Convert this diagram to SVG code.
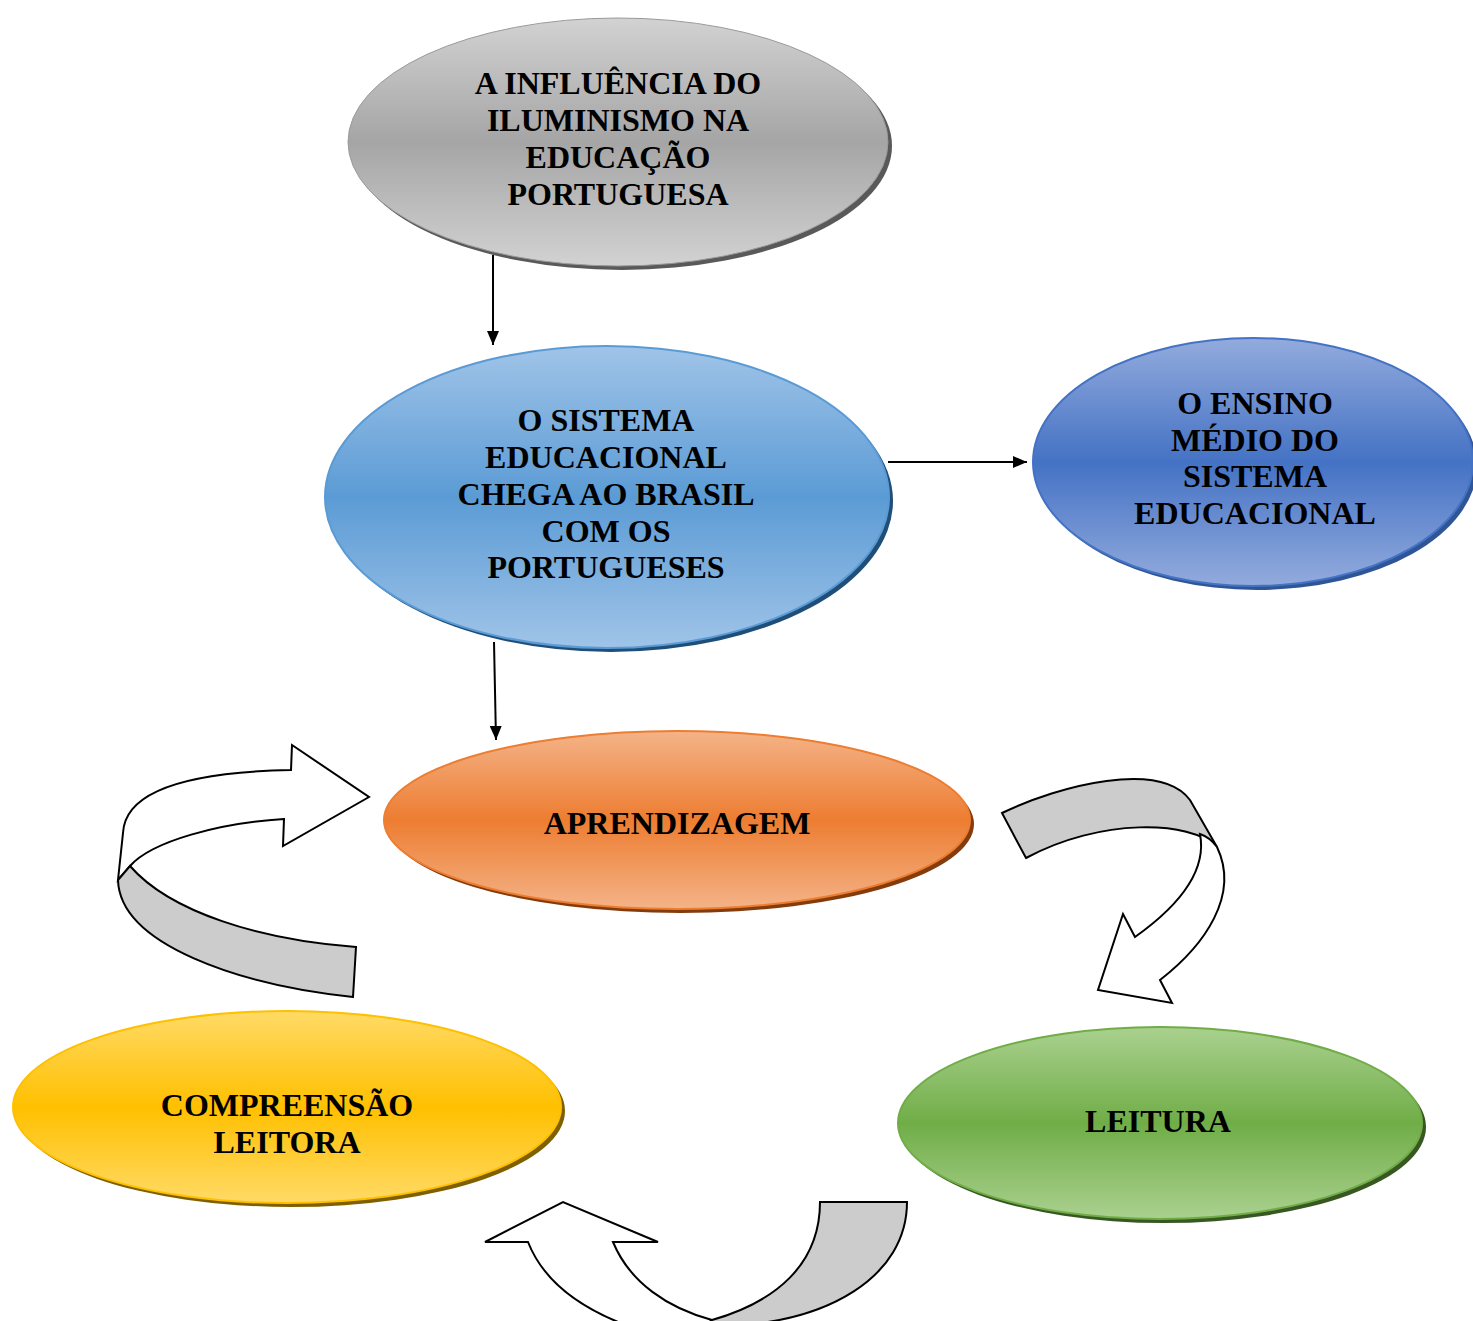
<svg xmlns="http://www.w3.org/2000/svg" width="1473" height="1321" viewBox="0 0 1473 1321">
<style>
.t{font-family:"Liberation Serif","Times New Roman",serif;font-weight:bold;font-size:32px;fill:#000;text-anchor:middle}
.c{stroke:#000;stroke-width:2;fill:none}
.ar{stroke:#000;stroke-width:2;stroke-linejoin:miter}
</style>
<defs>
<linearGradient id="gGray" x1="0" y1="0" x2="0" y2="1"><stop offset="0" stop-color="#d2d2d2"/><stop offset="0.5" stop-color="#a5a5a5"/><stop offset="1" stop-color="#d2d2d2"/></linearGradient>
<linearGradient id="gBlue" x1="0" y1="0" x2="0" y2="1"><stop offset="0" stop-color="#a0c4e8"/><stop offset="0.5" stop-color="#5b9bd5"/><stop offset="1" stop-color="#a0c4e8"/></linearGradient>
<linearGradient id="gDark" x1="0" y1="0" x2="0" y2="1"><stop offset="0" stop-color="#93abdd"/><stop offset="0.5" stop-color="#4472c4"/><stop offset="1" stop-color="#93abdd"/></linearGradient>
<linearGradient id="gOr" x1="0" y1="0" x2="0" y2="1"><stop offset="0" stop-color="#f4b388"/><stop offset="0.5" stop-color="#ed7d31"/><stop offset="1" stop-color="#f4b388"/></linearGradient>
<linearGradient id="gYe" x1="0" y1="0" x2="0" y2="1"><stop offset="0" stop-color="#ffda66"/><stop offset="0.5" stop-color="#ffc000"/><stop offset="1" stop-color="#ffda66"/></linearGradient>
<linearGradient id="gGr" x1="0" y1="0" x2="0" y2="1"><stop offset="0" stop-color="#aad18f"/><stop offset="0.5" stop-color="#70ad47"/><stop offset="1" stop-color="#aad18f"/></linearGradient>
<marker id="ah" markerWidth="14" markerHeight="12" refX="14" refY="6" orient="auto" markerUnits="userSpaceOnUse" viewBox="0 0 14 12"><path d="M0,0 L14,6 L0,12 Z" fill="#000"/></marker>
</defs>

<g id="n-iluminismo">
<ellipse cx="622" cy="146" rx="270" ry="124" fill="#595959"/>
<ellipse cx="618" cy="142" rx="270" ry="124" fill="url(#gGray)" stroke="#9a9a9a" stroke-width="1"/>
<text class="t" x="618" y="94">A INFLUÊNCIA DO</text>
<text class="t" x="618" y="131">ILUMINISMO NA</text>
<text class="t" x="618" y="168">EDUCAÇÃO</text>
<text class="t" x="618" y="205">PORTUGUESA</text>
</g>

<g id="n-sistema">
<ellipse cx="611" cy="501" rx="282" ry="151" fill="#1f4e79"/>
<ellipse cx="607" cy="497" rx="282" ry="151" fill="url(#gBlue)" stroke="#5b9bd5" stroke-width="2"/>
<text class="t" x="606" y="431">O SISTEMA</text>
<text class="t" x="606" y="468">EDUCACIONAL</text>
<text class="t" x="606" y="505">CHEGA AO BRASIL</text>
<text class="t" x="606" y="542">COM OS</text>
<text class="t" x="606" y="578">PORTUGUESES</text>
</g>

<g id="n-ensino">
<ellipse cx="1257" cy="466" rx="220" ry="124" fill="#2f5597"/>
<ellipse cx="1253" cy="462" rx="220" ry="124" fill="url(#gDark)" stroke="#4472c4" stroke-width="2"/>
<text class="t" x="1255" y="414">O ENSINO</text>
<text class="t" x="1255" y="451">MÉDIO DO</text>
<text class="t" x="1255" y="487">SISTEMA</text>
<text class="t" x="1255" y="524">EDUCACIONAL</text>
</g>

<g id="n-aprendizagem">
<ellipse cx="681" cy="824" rx="293" ry="89" fill="#843c0c"/>
<ellipse cx="677" cy="820" rx="293" ry="89" fill="url(#gOr)" stroke="#ed7d31" stroke-width="2"/>
<text class="t" x="677" y="834">APRENDIZAGEM</text>
</g>

<g id="n-compreensao">
<ellipse cx="291" cy="1111" rx="274" ry="96" fill="#7f6000"/>
<ellipse cx="287" cy="1107" rx="274" ry="96" fill="url(#gYe)" stroke="#ffc000" stroke-width="2"/>
<text class="t" x="287" y="1116">COMPREENSÃO</text>
<text class="t" x="287" y="1153">LEITORA</text>
</g>

<g id="n-leitura">
<ellipse cx="1164" cy="1127" rx="262" ry="96" fill="#385723"/>
<ellipse cx="1160" cy="1123" rx="262" ry="96" fill="url(#gGr)" stroke="#70ad47" stroke-width="2"/>
<text class="t" x="1158" y="1132">LEITURA</text>
</g>

<g id="connectors">
<line class="c" x1="493" y1="255" x2="493" y2="345" marker-end="url(#ah)"/>
<line class="c" x1="494" y1="642" x2="496" y2="740" marker-end="url(#ah)"/>
<line class="c" x1="888" y1="462" x2="1027" y2="462" marker-end="url(#ah)"/>

<path class="ar" fill="#fff" d="M291,770 L292,745 L369,797 L283,846 L284,819 C220,823 152,841 130,866 L118,880 L123,833 C125,790 190,772 291,770 Z"/>
<path class="ar" fill="#cccccc" d="M130,866 C170,912 260,940 356,947 L353,997 C240,985 120,945 118,880 Z"/>

<path class="ar" fill="#cccccc" d="M1002,813 C1060,785 1160,760 1190,800 L1217,847 C1190,820 1100,818 1026,858 Z"/>
<path class="ar" fill="#fff" d="M1200,834 C1207,870 1180,905 1135,937 L1123,914 L1098,990 L1172,1003 L1160,980 C1205,945 1240,895 1217,847 C1212,840 1206,836 1200,834 Z"/>

<path class="ar" fill="#fff" d="M528,1242 L485,1242 L563,1202 L658,1242 L613,1242 C630,1283 668,1308 712,1320 L700,1330 L640,1330 C585,1312 545,1285 528,1242 Z"/>
<path class="ar" fill="#cccccc" d="M820,1202 L907,1202 C907,1275 830,1326 712,1326 L712,1320 C775,1302 820,1265 820,1202 Z"/>
</g>
</svg>
